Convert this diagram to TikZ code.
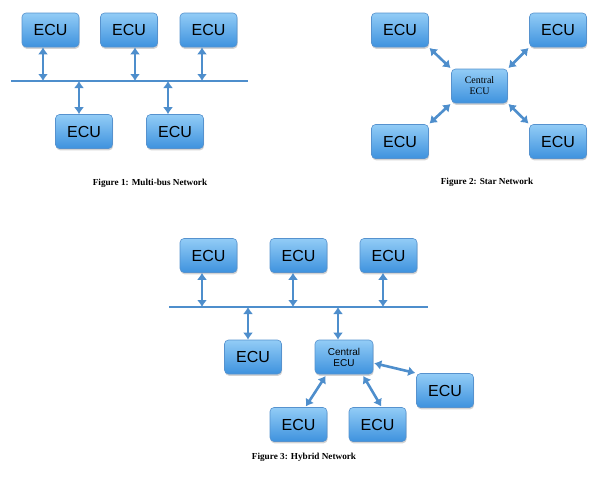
\documentclass[tikz,border=0pt]{standalone}
\usepackage{fontspec}
\setmainfont{Liberation Serif}
\setsansfont{Liberation Sans}
\usetikzlibrary{arrows.meta,shadows}
\definecolor{ecutop}{RGB}{146,204,246}
\definecolor{ecubot}{RGB}{62,146,222}
\definecolor{ecuedge}{RGB}{86,146,206}
\definecolor{linkblue}{RGB}{78,142,204}
\tikzset{
  ecu/.style={draw=ecuedge, line width=0.6pt, rounded corners=4pt, top color=ecutop, bottom color=ecubot,
    minimum width=57pt, minimum height=34pt, inner sep=0pt,
    drop shadow={opacity=0.35, shadow xshift=0.6pt, shadow yshift=-1.8pt},
    font=\sffamily\fontsize{16}{16}\selectfont},
  central/.style={ecu, minimum width=56pt, align=center, font=\fontsize{10}{11}\selectfont},
  link/.style={draw=linkblue, line width=2.6pt, {Latex[length=7pt,width=10pt]}-{Latex[length=7pt,width=10pt]}},
  bus/.style={draw=linkblue, line width=2.2pt},
  caption/.style={font=\bfseries\fontsize{9.2}{10}\selectfont}
}
\begin{document}
\begin{tikzpicture}[x=1pt,y=-1pt]
\useasboundingbox (0,0) rectangle (601,482);
\begin{scope}
\node[ecu] (ecuA) at (50.5,30) {ECU};
\node[ecu] (ecuB) at (129,30) {ECU};
\node[ecu] (ecuC) at (208.5,30) {ECU};
\node[ecu] (ecuD) at (84,131.5) {ECU};
\node[ecu] (ecuE) at (175,131.5) {ECU};
\coordinate (busL) at (11,81);
\coordinate (busR) at (248,81);
\draw[bus] (busL) -- (busR);
\draw[link] ([xshift=-7.5pt]ecuA.south) -- ([xshift=-7.5pt]ecuA.south |- busL);
\draw[link] ([xshift=6pt]ecuB.south) -- ([xshift=6pt]ecuB.south |- busL);
\draw[link] ([xshift=-6.5pt]ecuC.south) -- ([xshift=-6.5pt]ecuC.south |- busL);
\draw[link] ([xshift=-5pt]ecuD.north |- busL) -- ([xshift=-5pt]ecuD.north);
\draw[link] ([xshift=-7pt]ecuE.north |- busL) -- ([xshift=-7pt]ecuE.north);
\node[caption] (capA) at (150,183) {Figure 1: Multi-bus Network};
\end{scope}

%%%------------------------------------------------------------------------------------------------------------
\begin{scope}
\node[central] (starC) at (479.5,86) {Central\\ECU};
\node[ecu] (starNW) at (400,30) {ECU};
\node[ecu] (starNE) at (558,30) {ECU};
\node[ecu] (starSW) at (400,141.5) {ECU};
\node[ecu] (starSE) at (558,141.5) {ECU};
\draw[link, shorten <=1pt, shorten >=1pt] (starNW.south east) -- (starC.north west);
\draw[link, shorten <=1pt, shorten >=1pt] (starNE.south west) -- (starC.north east);
\draw[link, shorten <=1pt, shorten >=1pt] (starSW.north east) -- (starC.south west);
\draw[link, shorten <=1pt, shorten >=1pt] (starSE.north west) -- (starC.south east);
\node[caption] (capB) at (487,182) {Figure 2: Star Network};
\end{scope}

%%%------------------------------------------------------------------------------------------------------------
\begin{scope}
\node[ecu] (hybA) at (208.5,255.5) {ECU};
\node[ecu] (hybB) at (298.5,255.5) {ECU};
\node[ecu] (hybC) at (388.5,255.5) {ECU};
\node[ecu] (hybD) at (253,357) {ECU};
\node[central, minimum width=58pt, font=\sffamily\fontsize{10}{11}\selectfont] (hybCen) at (344,357) {Central\\ECU};
\node[ecu] (hybE) at (445,390.5) {ECU};
\node[ecu] (hybF) at (298.5,424.5) {ECU};
\node[ecu] (hybG) at (377.5,424.5) {ECU};
\coordinate (hbusL) at (169,307);
\coordinate (hbusR) at (428,307);
\draw[bus] (hbusL) -- (hbusR);
\draw[link] ([xshift=-6.5pt]hybA.south) -- ([xshift=-6.5pt]hybA.south |- hbusL);
\draw[link] ([xshift=-5.5pt]hybB.south) -- ([xshift=-5.5pt]hybB.south |- hbusL);
\draw[link] ([xshift=-5.5pt]hybC.south) -- ([xshift=-5.5pt]hybC.south |- hbusL);
\draw[link] ([xshift=-5pt]hybD.north |- hbusL) -- ([xshift=-5pt]hybD.north);
\draw[link] ([xshift=-6pt]hybCen.north |- hbusL) -- ([xshift=-6pt]hybCen.north);
\draw[link, shorten <=1pt, shorten >=1pt] ([yshift=-6pt]hybCen.east) -- (hybE.north west);
\draw[link, shorten <=2pt, shorten >=1pt] ([xshift=12pt]hybCen.south west) -- ([xshift=-22pt]hybF.north east);
\draw[link, shorten <=2pt, shorten >=1pt] ([xshift=-11pt]hybCen.south east) -- ([xshift=33pt]hybG.north west);
\node[caption] (capC) at (304,457) {Figure 3: Hybrid Network};
\end{scope}
\end{tikzpicture}
\end{document}
